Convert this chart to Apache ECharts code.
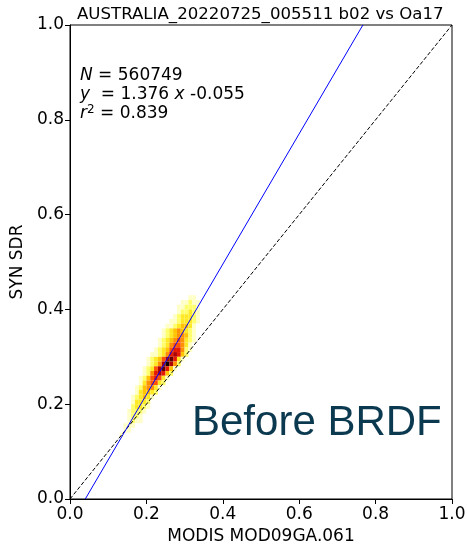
<!DOCTYPE html>
<html>
<head>
<meta charset="utf-8">
<script src="https://cdn.jsdelivr.net/npm/echarts@6/dist/echarts.min.js"></script>
<style>
  html, body { margin: 0; padding: 0; background: #fff; }
  #chart { width: 467px; height: 544px; }
</style>
</head>
<body>
<div id="chart"></div>
<script>
// density rows: [y bin start, x bin start, counts level per 0.01 x bin]
var binSize = 0.01;
var densityRows = [
  [0.42, 0.31, [1, 1]],
  [0.41, 0.29, [1, 1, 2, 1, 1]],
  [0.40, 0.28, [1, 1, 2, 2, 2, 1]],
  [0.39, 0.28, [1, 2, 2, 3, 2, 1]],
  [0.38, 0.27, [1, 2, 3, 3, 3, 2, 1]],
  [0.37, 0.26, [1, 1, 2, 3, 3, 3, 2, 1]],
  [0.36, 0.25, [1, 1, 2, 3, 4, 4, 3, 1]],
  [0.35, 0.24, [1, 2, 3, 4, 5, 4, 3, 2, 1]],
  [0.34, 0.24, [1, 2, 3, 4, 5, 5, 4, 2, 1]],
  [0.33, 0.23, [1, 2, 3, 4, 5, 6, 5, 3, 2, 1]],
  [0.32, 0.23, [1, 2, 3, 5, 6, 6, 5, 3, 1]],
  [0.31, 0.22, [1, 2, 3, 4, 6, 7, 7, 5, 2, 1]],
  [0.30, 0.21, [1, 1, 2, 3, 5, 7, 8, 7, 4, 2]],
  [0.29, 0.20, [1, 2, 3, 4, 6, 8, 9, 7, 3, 1]],
  [0.28, 0.20, [1, 2, 3, 5, 8, 10, 8, 5, 2]],
  [0.27, 0.19, [1, 2, 3, 6, 8, 9, 7, 4, 1]],
  [0.26, 0.19, [1, 2, 5, 7, 8, 7, 4, 2]],
  [0.25, 0.18, [1, 2, 4, 6, 7, 6, 3, 1]],
  [0.24, 0.18, [1, 3, 5, 6, 6, 3, 2]],
  [0.23, 0.17, [1, 2, 4, 5, 5, 3, 1]],
  [0.22, 0.17, [1, 3, 4, 4, 3, 2]],
  [0.21, 0.16, [1, 2, 3, 4, 3, 1]],
  [0.20, 0.16, [1, 3, 3, 3, 2]],
  [0.19, 0.16, [2, 3, 3, 2, 1]],
  [0.18, 0.15, [1, 2, 2, 2, 1]],
  [0.17, 0.15, [1, 2, 2, 1]],
  [0.16, 0.15, [1, 2, 1, 1]],
  [0.15, 0.14, [1, 1, 1]],
  [0.14, 0.14, [1, 1]],
  [0.13, 0.13, [1]]
];

var fitSlope = 1.376;
var fitIntercept = -0.055;
var nPoints = 560749;
var r2 = 0.839;

var cells = [];
densityRows.forEach(function (row) {
  row[2].forEach(function (v, i) {
    cells.push([+(row[1] + i * binSize).toFixed(2), row[0], v]);
  });
});

// regression line clipped to the [0,1] box
var fitLine = [
  [(0 - fitIntercept) / fitSlope, 0],
  [(1 - fitIntercept) / fitSlope, 1]
];
var oneToOne = [[0, 0], [1, 1]];

var font = 'DejaVu Sans';
var chart = echarts.init(document.getElementById('chart'));

var option = {
  backgroundColor: '#fff',
  animation: false,
  textStyle: { fontFamily: font },
  title: {
    text: 'AUSTRALIA_20220725_005511 b02 vs Oa17',
    left: 72,
    top: 1,
    textStyle: { fontFamily: font, fontSize: 16.6, fontWeight: 'normal', color: '#000' }
  },
  grid: {
    left: 70, right: 15, top: 25, bottom: 45,
    outerBoundsMode: 'none',
    containLabel: false,
    show: true, borderColor: '#000', borderWidth: 1, backgroundColor: 'transparent'
  },
  visualMap: {
    show: false,
    type: 'continuous',
    min: 1, max: 10,
    dimension: 2,
    seriesIndex: 0,
    inRange: {
      color: ['#ffffc8', '#ffff50', '#ffd800', '#ff9a00', '#ff4a00', '#d80000', '#780000', '#100000']
    }
  },
  xAxis: {
    type: 'value', min: 0, max: 1, interval: 0.2,
    name: 'MODIS MOD09GA.061', nameLocation: 'middle', nameGap: 28,
    nameTextStyle: { fontFamily: font, fontSize: 17, color: '#000' },
    axisLine: { show: true, onZero: false, lineStyle: { color: '#000' } },
    axisTick: { show: true, length: 5, lineStyle: { color: '#000' } },
    axisLabel: { fontFamily: font, fontSize: 17, color: '#000', margin: 7,
      formatter: function (v) { return v.toFixed(1); } },
    splitLine: { show: false }
  },
  yAxis: {
    type: 'value', min: 0, max: 1, interval: 0.2,
    name: 'SYN SDR', nameLocation: 'middle', nameGap: 37, nameRotate: 90,
    nameTextStyle: { fontFamily: font, fontSize: 17, color: '#000' },
    axisLine: { show: true, onZero: false, lineStyle: { color: '#000' } },
    axisTick: { show: true, length: 5, lineStyle: { color: '#000' } },
    axisLabel: { fontFamily: font, fontSize: 17, color: '#000', margin: 6,
      formatter: function (v) { return v.toFixed(1); } },
    splitLine: { show: false }
  },
  series: [
    {
      type: 'custom',
      data: cells,
      encode: { x: 0, y: 1 },
      renderItem: function (params, api) {
        var p0 = api.coord([api.value(0), api.value(1)]);
        var p1 = api.coord([api.value(0) + binSize, api.value(1) + binSize]);
        return {
          type: 'rect',
          shape: { x: p0[0], y: p1[1], width: p1[0] - p0[0], height: p0[1] - p1[1] },
          style: { fill: api.visual('color') }
        };
      },
      z: 1
    },
    {
      type: 'line',
      data: oneToOne,
      symbol: 'none',
      lineStyle: { color: '#000', width: 1, type: [4, 2] },
      z: 2
    },
    {
      type: 'line',
      data: fitLine,
      symbol: 'none',
      lineStyle: { color: '#0000ff', width: 1 },
      z: 3
    }
  ],
  graphic: [
    {
      type: 'text', left: 80, top: 66,
      style: {
        text: '{i|N} = ' + nPoints + '\n{i|y}  = ' + fitSlope.toFixed(3) + ' {i|x} ' + fitIntercept.toFixed(3) + '\n{i|r}{s|2} = ' + r2.toFixed(3),
        font: '17px "DejaVu Sans"',
        fill: '#000',
        lineHeight: 19,
        rich: {
          i: { fontStyle: 'italic', fontSize: 17, fontFamily: font, lineHeight: 19 },
          s: { fontSize: 12, fontFamily: font, verticalAlign: 'top', padding: [0, 0, 8, 0], lineHeight: 19 }
        }
      }
    },
    {
      type: 'text', left: 192, top: 402,
      style: {
        text: 'Before BRDF',
        font: '42px "Liberation Sans"',
        fill: '#0b3a50'
      }
    }
  ]
};
chart.setOption(option);
</script>
</body>
</html>
